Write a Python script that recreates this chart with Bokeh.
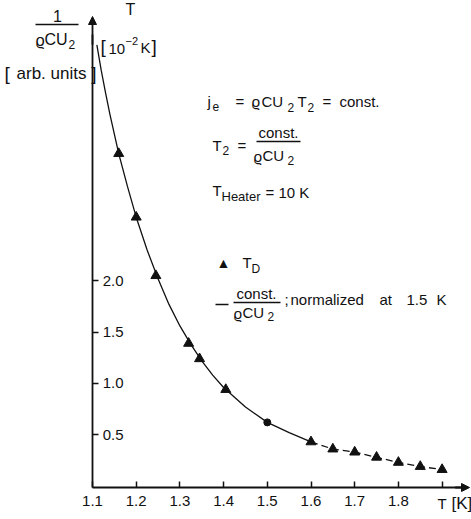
from bokeh.plotting import figure
from bokeh.models import Label, Arrow, NormalHead, FixedTicker, Range1d, PrintfTickFormatter
from bokeh.embed import file_html
from bokeh.resources import INLINE

# ---- data ----
curve_T = [1.11, 1.12, 1.13, 1.14, 1.16, 1.18, 1.20, 1.225, 1.25, 1.275, 1.30,
           1.325, 1.35, 1.375, 1.40, 1.45, 1.50, 1.55, 1.60]
curve_v = [4.30, 4.05, 3.83, 3.62, 3.24, 2.92, 2.62, 2.30, 2.02, 1.77, 1.56,
           1.38, 1.22, 1.08, 0.96, 0.77, 0.62, 0.52, 0.43]
tail_T = [1.60, 1.65, 1.70, 1.75, 1.80, 1.85, 1.90]
tail_v = [0.43, 0.36, 0.33, 0.28, 0.23, 0.19, 0.16]
td_T = [1.16, 1.20, 1.245, 1.32, 1.345, 1.405, 1.60, 1.65, 1.70, 1.75, 1.80, 1.85, 1.90]
td_v = [3.24, 2.62, 2.05, 1.39, 1.24, 0.94, 0.43, 0.36, 0.33, 0.28, 0.23, 0.19, 0.16]
norm_T = [1.5]
norm_v = [0.62]
x_ticks = [1.1, 1.2, 1.3, 1.4, 1.5, 1.6, 1.7, 1.8]
x_minor = [1.9]
y_ticks = [0.5, 1.0, 1.5, 2.0]

FONT = "Liberation Sans"
INK = "#111111"

WIDTH, HEIGHT = 471, 519
# pixel scale of the original drawing: 1.1 K at x=92 px, 437 px per K;
# zero at y=485.5 px, 102.6 px per unit
XS, XPX = 437.0, 92.0
YS, YPX = 102.6, 485.5
x_lo = 1.1 - XPX / XS
x_hi = x_lo + WIDTH / XS
y_hi = YPX / YS
y_lo = y_hi - HEIGHT / YS


def px(x):
    return 1.1 + (x - XPX) / XS


def py(y):
    return (YPX - y) / YS


p = figure(width=WIDTH, height=HEIGHT, output_backend="svg", toolbar_location=None,
           x_range=Range1d(x_lo, x_hi), y_range=Range1d(y_lo, y_hi),
           min_border=0)
p.outline_line_color = None
p.grid.visible = False

x_axis_at = py(487)
x_end = px(469)
y_end = py(16)

# axes (drawn inside the frame at fixed places)
p.xaxis.fixed_location = x_axis_at
p.yaxis.fixed_location = 1.1
p.xaxis.bounds = (1.1, 1.945)
p.yaxis.bounds = (x_axis_at, 4.4)
p.xaxis.ticker = FixedTicker(ticks=x_ticks, minor_ticks=x_minor)
p.yaxis.ticker = FixedTicker(ticks=y_ticks, minor_ticks=[])
p.yaxis.formatter = PrintfTickFormatter(format="%.1f")
p.xaxis.formatter = PrintfTickFormatter(format="%.1f")
for ax in (p.xaxis, p.yaxis):
    ax.axis_line_width = 1.8
    ax.axis_line_color = INK
    ax.major_tick_in = 6
    ax.major_tick_out = 0
    ax.major_tick_line_color = INK
    ax.major_tick_line_width = 1.5
    ax.minor_tick_in = 6
    ax.minor_tick_out = 0
    ax.minor_tick_line_color = INK
    ax.minor_tick_line_width = 1.5
    ax.major_label_text_font = FONT
    ax.major_label_text_font_size = "15px"
    ax.major_label_text_color = INK
p.xaxis.major_label_standoff = 8
p.yaxis.major_label_standoff = -31

# curve and points
p.line(curve_T, curve_v, line_color=INK, line_width=1.3)
p.line(tail_T, tail_v, line_color=INK, line_width=1.3, line_dash="7 4")
p.scatter(td_T, td_v, marker="triangle", size=10, fill_color=INK, line_color=INK)
p.scatter(norm_T, norm_v, marker="circle", size=7, fill_color=INK, line_color=INK)

# axis arrows
p.add_layout(Arrow(end=NormalHead(size=8, fill_color=INK, line_color=INK),
                   x_start=1.1, y_start=4.3, x_end=1.1, y_end=y_end,
                   line_color=INK, line_width=1.8))
p.add_layout(Arrow(end=NormalHead(size=8, fill_color=INK, line_color=INK),
                   x_start=1.93, y_start=x_axis_at, x_end=x_end, y_end=x_axis_at,
                   line_color=INK, line_width=1.8))


def txt(x, y, s, size=15, align="left"):
    p.add_layout(Label(x=px(x), y=py(y), text=s, text_align=align,
                       text_baseline="middle", text_font=FONT,
                       text_font_size=f"{size}px", text_color=INK))


def bar(x1, x2, y, w=1.3):
    p.add_layout(Arrow(start=None, end=None, x_start=px(x1), y_start=py(y),
                       x_end=px(x2), y_end=py(y), line_color=INK, line_width=w))


# top-left axis titles
txt(57, 15, "1", 16, "center")
bar(35, 78, 24)
txt(35, 40, "ϱ", 16)
txt(44, 39, "CU", 16)
txt(68, 44, "2", 12)
txt(4, 73, "[", 19)
txt(51, 73, "arb. units", 17, "center")
txt(96, 73, "]", 19, "right")
txt(130, 9, "T", 16, "center")
txt(100, 46, "[", 19)
txt(108, 48, "10", 15)
txt(125, 40, "−2", 11)
txt(140, 47, "K", 15)
txt(151, 46, "]", 19)
txt(437, 503, "T", 15)
txt(451, 503, "[K]", 17)

# annotations
txt(207, 101, "j", 15)
txt(212, 106, "e", 12)
txt(235, 101, "=", 15)
txt(251, 101, "ϱ", 15)
txt(261, 101, "CU", 15)
txt(287, 107, "2", 12)
txt(297, 101, "T", 15)
txt(307, 107, "2", 12)
txt(322, 101, "=", 15)
txt(339, 101, "const.", 15)

txt(212, 145, "T", 15)
txt(222, 150, "2", 12)
txt(237, 145, "=", 15)
txt(278, 132, "const.", 15, "center")
bar(256, 300, 141)
txt(253, 156, "ϱ", 15)
txt(262, 155, "CU", 15)
txt(287, 160, "2", 12)

txt(212, 190, "T", 15)
txt(221, 196, "Heater", 13)
txt(265, 192, "= 10 K", 15)

# legend
txt(223, 262, "▲", 14, "center")
txt(242, 262, "T", 15)
txt(251, 268, "D", 12)
bar(215, 228, 304, 1.5)
txt(256, 293, "const.", 15, "center")
bar(233, 280, 302)
txt(233, 313, "ϱ", 15)
txt(242, 312, "CU", 15)
txt(267, 316, "2", 12)
txt(284, 299, ";", 15)
txt(290, 299, "normalized", 15)
txt(379, 299, "at", 15)
txt(406, 299, "1.5", 15)
txt(436, 299, "K", 15)

open("out.html", "w").write(file_html(p, INLINE))
